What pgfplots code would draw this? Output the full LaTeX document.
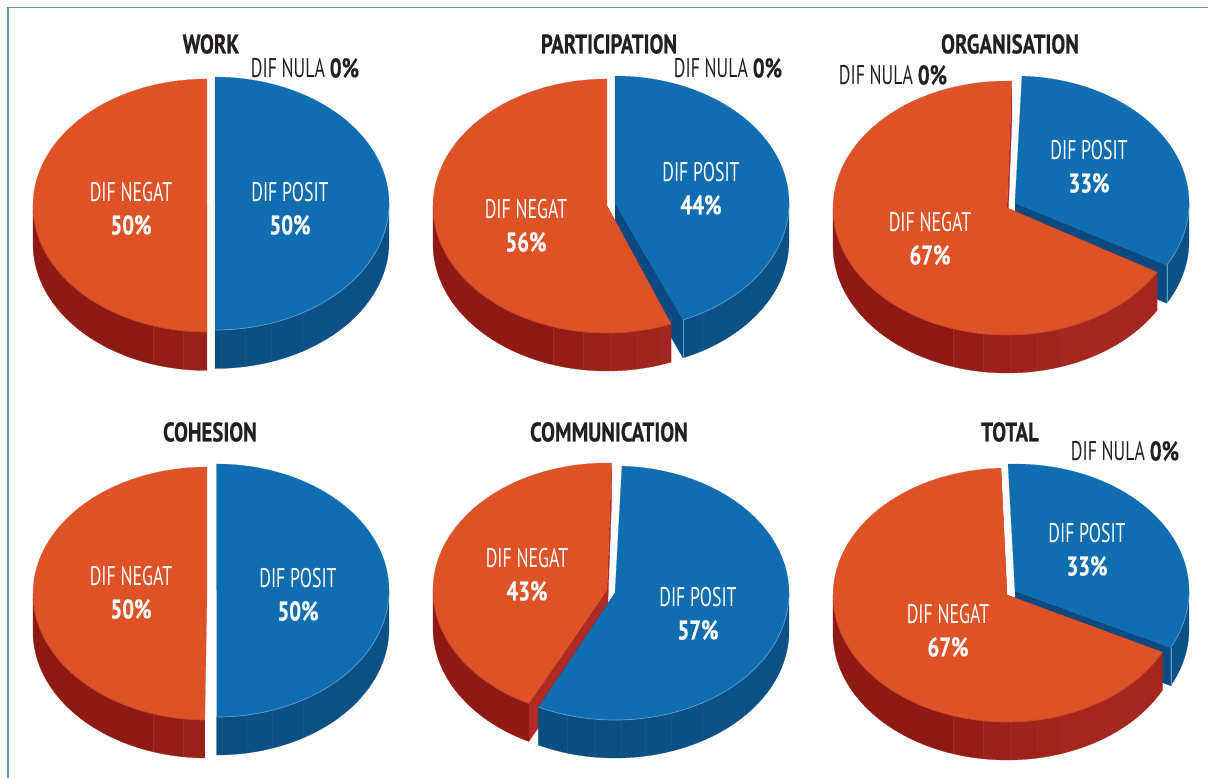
\documentclass[border=0pt]{standalone}
\usepackage{fontspec}
\setmainfont{PT Sans}[FakeStretch=0.66]
\newfontfamily\bff{PT Sans}[UprightFont=* Bold,FakeStretch=0.77,FakeBold=0.4]
\usepackage{pgfplots}
\pgfplotsset{compat=1.18}
\definecolor{bt}{HTML}{106DB0}
\definecolor{ot}{HTML}{DD5227}
\definecolor{bw}{HTML}{0A4A80}
\definecolor{ow}{HTML}{AE2A22}
\definecolor{bA}{HTML}{0B5186}
\definecolor{bB}{HTML}{0B5084}
\definecolor{bC}{HTML}{0B5083}
\definecolor{bD}{HTML}{0B4F82}
\definecolor{bE}{HTML}{0A4E81}
\definecolor{oA}{HTML}{A3271F}
\definecolor{oB}{HTML}{A1251D}
\definecolor{oC}{HTML}{9E231B}
\definecolor{oD}{HTML}{9A2019}
\definecolor{oE}{HTML}{951D16}
\definecolor{oF}{HTML}{8F1A14}
\definecolor{bL}{HTML}{135789}
\definecolor{oL}{HTML}{A02D24}
\definecolor{bR}{HTML}{5E9DCC}
\definecolor{oR}{HTML}{C9402A}
\definecolor{frame}{HTML}{5B92BD}
\definecolor{ink}{HTML}{231F20}
% band of the side wall: cx cy rx ry depth a0 a1 colour
\newcommand\sideband[8]{%
  \addplot[fill=#8,draw=#8,line width=0.25pt,domain=0:81,samples=82]
   ({#1+#3*sin(#6+(#7-#6)*(x<40.5?x:81-x)/40)},
    {#2-#4*cos(#6+(#7-#6)*(x<40.5?x:81-x)/40)+(x<40.5?0:#5)});}
\newcommand\seam[2]{% angle colour, uses \Pa..\Pe
  \pgfmathsetmacro\vx{\Pa+\Pc*sin(#1)}%
  \pgfmathsetmacro\vy{\Pb-\Pd*cos(#1)}%
  \pgfmathsetmacro\vz{\vy+\Pe}%
  \addplot[color=#2,line width=0.4pt] coordinates {(\vx,\vy) (\vx,\vz)};}
\newcommand\band[4]{% b0 b1 colour linecolour
  \pgfmathsetmacro\lo{max(\Pf,#1)}%
  \pgfmathsetmacro\hi{min(\Pg,#2)}%
  \ifdim\lo pt<\hi pt
    \sideband{\Pa}{\Pb}{\Pc}{\Pd}{\Pe}{\lo}{\hi}{#3}%
    \ifdim\lo pt=#1pt \ifdim #1pt>90pt \seam{#1}{#4}\fi\fi
  \fi}
\newcommand\settle[7]{\def\Pa{#1}\def\Pb{#2}\def\Pc{#3}\def\Pd{#4}\def\Pe{#5}\def\Pf{#6}\def\Pg{#7}}
\newcommand\cut[7]{% cx cy rx ry d angle colour; a vertical cut shows no wall
  \pgfmathsetmacro\tk{abs(sin(#6))}%
  \ifdim\tk pt>0.02pt
  \pgfmathsetmacro\tx{#1+#3*sin(#6)}%
  \pgfmathsetmacro\ty{#2-#4*cos(#6)}%
  \pgfmathsetmacro\tz{\ty+#5}%
  \pgfmathsetmacro\az{#2+#5}%
  \addplot[fill=#7,draw=#7,line width=0.25pt] coordinates {(#1,#2) (\tx,\ty) (\tx,\tz) (#1,\az)};%
  \fi}
\newcommand\piecap[7]{% cx cy rx ry a0 a1 colour
  \addplot[fill=#7,draw=#7,line width=0.2pt,domain=0:61,samples=62]
   ({x<0.5?#1:#1+#3*sin(#5+(#6-#5)*(x-1)/60)},
    {x<0.5?#2:#2-#4*cos(#5+(#6-#5)*(x-1)/60)});}
\newcommand\rim[7]{% cx cy rx ry a0 a1 colour
  \pgfmathsetmacro\rl{max(#5,92)}%
  \pgfmathsetmacro\rh{min(#6,268)}%
  \addplot[color=#7,line width=0.7pt,domain=\rl:\rh,samples=50]
   ({#1+#3*sin(x)},{#2-#4*cos(x)});}
% blue slice: cx cy rx ry depth start pct
\newcommand\blue[7]{%
  \pgfmathsetmacro\eA{#6+3.6*#7}%
  \cut{#1}{#2}{#3}{#4}{#5}{\eA}{bw}%
  \settle{#1}{#2}{#3}{#4}{#5}{#6}{\eA}%
  \band{90}{150}{bA}{bL}\band{150}{161}{bB}{bL}\band{161}{170}{bC}{bL}\band{170}{178}{bD}{bL}\band{178}{187}{bD}{bL}\band{187}{196}{bE}{bL}\band{196}{270}{bE}{bL}%
  \ifdim\eA pt<170pt \seam{\eA}{bR}\fi
  \piecap{#1}{#2}{#3}{#4}{#6}{\eA}{bt}%
  \rim{#1}{#2}{#3}{#4}{#6}{\eA}{bR}}
% orange slice: cx cy rx ry depth end(>=360) pct
\newcommand\orange[7]{%
  \pgfmathsetmacro\sA{#6-3.6*#7}%
  \cut{#1}{#2}{#3}{#4}{#5}{\sA}{ow}%
  \cut{#1}{#2}{#3}{#4}{#5}{#6}{ow}%
  \settle{#1}{#2}{#3}{#4}{#5}{\sA}{#6}%
  \band{90}{162}{oA}{oL}\band{162}{170}{oB}{oL}\band{170}{179}{oC}{oL}\band{179}{188}{oD}{oL}\band{188}{198}{oE}{oL}\band{198}{270}{oF}{oL}%
  \piecap{#1}{#2}{#3}{#4}{\sA}{#6}{ot}%
  \rim{#1}{#2}{#3}{#4}{\sA}{#6}{oR}}
\newcommand\lab[4]{%
  \node[text=white,align=center,inner sep=0pt] at (axis cs:#1,#2) {#3};
  \node[text=white,inner sep=0pt] at (axis cs:#1,#2+33) {\bff #4};}
\newcommand\ttl[3]{\node[text=ink,inner sep=0pt] at (axis cs:#1,#2) {\bff #3};}
\newcommand\nul[2]{\node[text=ink,inner sep=0pt] at (axis cs:#1,#2) {DIF NULA {\bff 0\%}};}
\begin{document}
\begin{tikzpicture}
\useasboundingbox (0,0) rectangle (1208pt,778pt);
\fontsize{27}{31}\selectfont
\begin{axis}[
  at={(0,0)},anchor=south west,
  width=1208pt,height=778pt,scale only axis,
  xmin=0,xmax=1208,ymin=0,ymax=778,y dir=reverse,
  axis lines=none,no markers,clip=true,
  every axis plot/.append style={forget plot}]
\addplot[color=frame,line width=1.8pt] coordinates {(8,778) (8,7.5) (1208,7.5)};
% WORK
\blue{215}{203.5}{174}{126.5}{38.5}{0}{50}
\orange{207}{205.5}{174}{126.5}{38.5}{360}{50}
% PARTICIPATION
\blue{615}{203}{174}{127}{38}{0}{43.6}
\orange{607}{206}{174}{127}{38}{360}{56}
% ORGANISATION
\blue{1015}{203}{174}{127}{38}{2.3}{32.5}
\orange{1007}{208}{174}{127}{38}{361.6}{67}
% COHESION
\blue{216.5}{590.5}{172.5}{126.5}{38}{0}{50}
\orange{207}{593.5}{174}{126.5}{38}{360}{49.8}
% COMMUNICATION
\orange{607}{590}{174}{127}{38}{361.5}{43}
\blue{615}{593}{174}{127}{38}{2.3}{56.6}
% TOTAL
\blue{1015}{591}{174}{127}{38}{-2.3}{33}
\orange{1007}{595}{174}{127}{38}{358}{67}
% labels
\ttl{211}{44}{WORK}\ttl{609}{44}{PARTICIPATION}\ttl{1010}{44}{ORGANISATION}
\ttl{210}{432}{COHESION}\ttl{609}{432}{COMMUNICATION}\ttl{1010}{432}{TOTAL}
\nul{305}{68}\nul{728}{68}\nul{893}{75}\nul{1125}{451}
\lab{131}{192}{DIF NEGAT}{50\%}\lab{290}{192}{DIF POSIT}{50\%}
\lab{526}{209}{DIF NEGAT}{56\%}\lab{701}{172}{DIF POSIT}{44\%}
\lab{930}{222}{DIF NEGAT}{67\%}\lab{1089}{150}{DIF POSIT}{33\%}
\lab{131}{576}{DIF NEGAT}{50\%}\lab{298}{578}{DIF POSIT}{50\%}
\lab{527}{558}{DIF NEGAT}{43\%}\lab{698}{597}{DIF POSIT}{57\%}
\lab{948}{614}{DIF NEGAT}{67\%}\lab{1087}{533}{DIF POSIT}{33\%}
\end{axis}
\end{tikzpicture}
\end{document}
